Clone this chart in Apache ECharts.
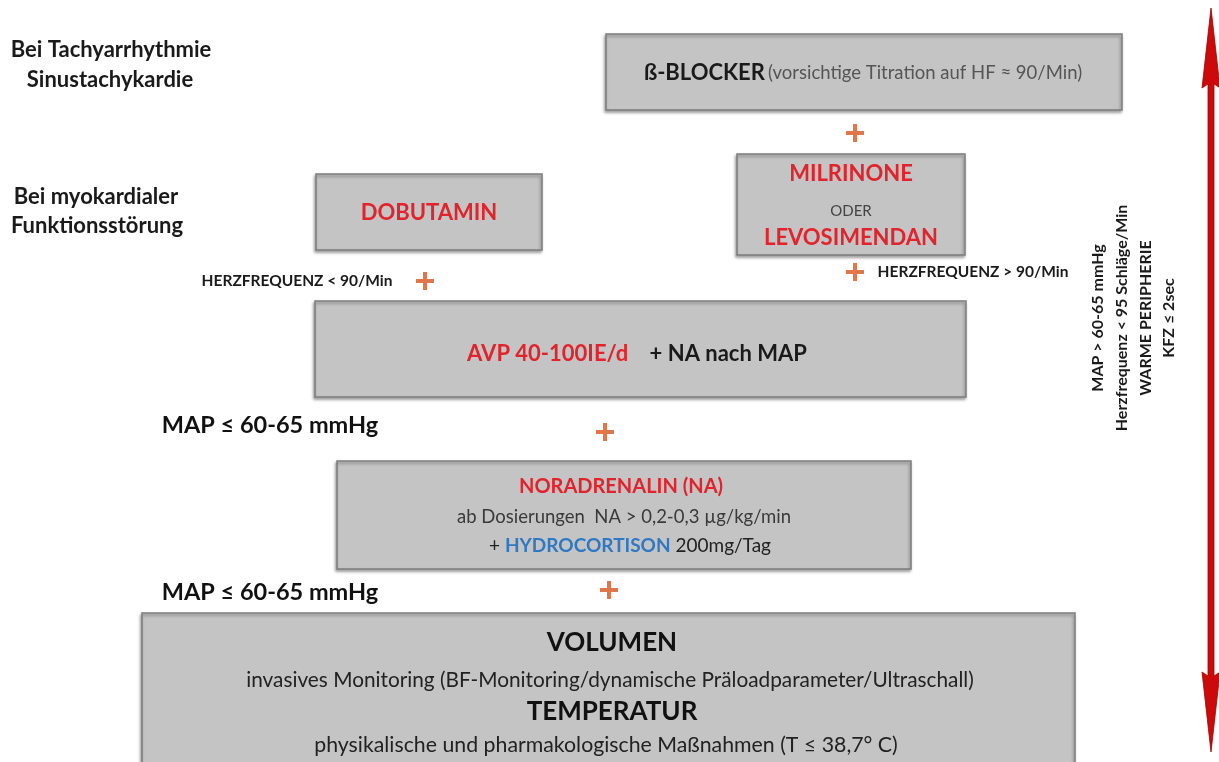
<!DOCTYPE html>
<html><head><meta charset="utf-8">
<script src="https://cdn.jsdelivr.net/npm/echarts@6/dist/echarts.min.js"></script>
<style>html,body{margin:0;padding:0;background:#fff}#c{width:1219px;height:762px}</style>
</head><body><div id="c"></div>
<script>
// ---------- content (data) ----------
const leftNotes = ['Bei Tachyarrhythmie', 'Sinustachykardie', 'Bei myokardialer', 'Funktionsstörung'];
const hrNotes = ['HERZFREQUENZ < 90/Min', 'HERZFREQUENZ > 90/Min'];
const mapNotes = ['MAP ≤ 60-65 mmHg', 'MAP ≤ 60-65 mmHg'];
const targets = ['MAP > 60-65 mmHg', 'Herzfrequenz < 95 Schläge/Min', 'WARME PERIPHERIE', 'KFZ ≤ 2sec'];
const boxNames = ['ß-BLOCKER', 'DOBUTAMIN', 'MILRINONE / LEVOSIMENDAN', 'AVP', 'NORADRENALIN', 'VOLUMEN / TEMPERATUR'];
const boxLines = [
  '{tb|ß-BLOCKER} {ts|(vorsichtige Titration auf HF ≈ 90/Min)}',
  '{red|DOBUTAMIN}',
  '{red|MILRINONE}', '{oder|ODER}', '{red|LEVOSIMENDAN}',
  '{red|AVP 40-100IE/d}{blk|    + NA nach MAP}',
  '{red2|NORADRENALIN (NA)}', '{n14|ab Dosierungen  NA > 0,2-0,3 µg/kg/min}', '{n15|+ }{blue|HYDROCORTISON}{n15| 200mg/Tag}',
  '{big|VOLUMEN}', '{mid|invasives Monitoring (BF-Monitoring/dynamische Präloadparameter/Ultraschall)}',
  '{big|TEMPERATUR}', '{mid2|physikalische und pharmakologische Maßnahmen (T ≤ 38,7° C)}'
];

// ---------- layout (diagram space, 0..1219 x 0..762) ----------
const layout = {
  boxes: [[606,34,1122,110],[316,174,542,250],[737,154,965,255],[315,301,966,397],[337,461,911,569],[142,613,1075,780]],
  boxLinePos: [[863,73],[429,213],[851,174],[851,211],[851,238],[637,354],[621,487],[624,517],[630,546],[612,643],[610,680],[612,712],[606,745]],
  leftPos: [[111,50],[110,80],[96,197],[97,226]],
  hrPos: [[297,281],[973,272]],
  mapPos: [[270,425],[270,592]],
  targetPos: [[1098,318],[1122,318],[1146,318],[1169,318]],
  plusPos: [[855,133],[425,281],[855,272],[605,432],[609,590]],
  arrow: [[1211, 8, 752]]
};

const FONT = 'Lato, "Open Sans", sans-serif';
const RED = '#e3232c';
const rich = {
  tb: {fontFamily: FONT, fontWeight: 'bold', fontSize: 22, fill: '#1a1a1a'},
  ts: {fontFamily: FONT, fontSize: 18.5, fill: '#555'},
  red: {fontFamily: FONT, fontWeight: 'bold', fontSize: 22, fill: RED},
  blk: {fontFamily: FONT, fontWeight: 'bold', fontSize: 22, fill: '#1a1a1a'},
  oder: {fontFamily: FONT, fontSize: 15, fill: '#444'},
  red2: {fontFamily: FONT, fontWeight: 'bold', fontSize: 20, fill: RED},
  n14: {fontFamily: FONT, fontSize: 18.5, fill: '#3a3a3a'},
  n15: {fontFamily: FONT, fontSize: 19, fill: '#222'},
  blue: {fontFamily: FONT, fontWeight: 'bold', fontSize: 19, fill: '#2f78c4'},
  big: {fontFamily: FONT, fontWeight: 'bold', fontSize: 26, fill: '#111'},
  mid: {fontFamily: FONT, fontSize: 20.8, fill: '#222'},
  mid2: {fontFamily: FONT, fontSize: 21.3, fill: '#222'},
  lab: {fontFamily: FONT, fontWeight: 'bold', fontSize: 22, fill: '#1a1a1a'},
  hz: {fontFamily: FONT, fontWeight: 'bold', fontSize: 15.5, fill: '#1a1a1a'},
  map: {fontFamily: FONT, fontWeight: 'bold', fontSize: 23.5, fill: '#111'},
  tgt: {fontFamily: FONT, fontWeight: 'bold', fontSize: 16, fill: '#1a1a1a'}
};

// build text items: [x, y, rotated]
const textStrings = [];
const textData = [];
function addTexts(strs, pos, style, rot) {
  strs.forEach((s, i) => {
    textStrings.push(style ? '{' + style + '|' + s + '}' : s);
    textData.push([pos[i][0], pos[i][1], rot ? 1 : 0]);
  });
}
addTexts(boxLines, layout.boxLinePos, null, false);
addTexts(leftNotes, layout.leftPos, 'lab', false);
addTexts(hrNotes, layout.hrPos, 'hz', false);
addTexts(mapNotes, layout.mapPos, 'map', false);
addTexts(targets, layout.targetPos, 'tgt', true);

const chart = echarts.init(document.getElementById('c'));
chart.setOption({
  backgroundColor: '#ffffff',
  animation: false,
  grid: {left: 0, right: 0, top: 0, bottom: 0},
  xAxis: {type: 'value', min: 0, max: 1219, show: false},
  yAxis: {type: 'value', min: 0, max: 762, inverse: true, show: false},
  series: [
    {
      type: 'custom', name: 'boxes',
      data: layout.boxes.map((b, i) => ({name: boxNames[i], value: b})),
      encode: {x: [0, 2], y: [1, 3]},
      renderItem: function (params, api) {
        const p0 = api.coord([api.value(0), api.value(1)]);
        const p1 = api.coord([api.value(2), api.value(3)]);
        return {
          type: 'rect',
          shape: {x: p0[0], y: p0[1], width: p1[0] - p0[0], height: p1[1] - p0[1]},
          style: {fill: '#c4c4c4', stroke: '#7d7d7d', lineWidth: 1.5,
            shadowBlur: 3, shadowColor: 'rgba(0,0,0,0.35)', shadowOffsetX: -1, shadowOffsetY: 2}
        };
      }
    },
    {
      type: 'custom', name: 'arrow',
      data: layout.arrow,
      encode: {x: 0, y: [1, 2]},
      renderItem: function (params, api) {
        const t = api.coord([api.value(0), api.value(1)]);
        const b = api.coord([api.value(0), api.value(2)]);
        const x = t[0], hw = 9, sw = 3, hl = 80;
        return {
          type: 'polygon',
          shape: {points: [[x, t[1]], [x + hw, t[1] + hl], [x + sw, t[1] + hl - 4], [x + sw, b[1] - hl + 4], [x + hw, b[1] - hl],
            [x, b[1]], [x - hw, b[1] - hl], [x - sw, b[1] - hl + 4], [x - sw, t[1] + hl - 4], [x - hw, t[1] + hl]]},
          style: {fill: '#cc0a0a', stroke: '#a00000', lineWidth: 0.8}
        };
      }
    },
    {
      type: 'scatter', name: 'plus',
      data: layout.plusPos,
      symbol: 'path://M7,0h4v7h7v4h-7v7h-4v-7h-7v-4h7z',
      symbolSize: 18,
      itemStyle: {color: '#d8541d'},
      z: 5
    },
    {
      type: 'custom', name: 'texts',
      data: textData,
      encode: {x: 0, y: 1},
      z: 10,
      renderItem: function (params, api) {
        const p = api.coord([api.value(0), api.value(1)]);
        const rot = api.value(2) === 1;
        return {
          type: 'text',
          x: p[0], y: p[1],
          rotation: rot ? Math.PI / 2 : 0,
          style: {
            text: textStrings[params.dataIndex],
            rich: rich,
            align: 'center', verticalAlign: 'middle',
            fontFamily: FONT
          }
        };
      }
    }
  ]
});
</script>
</body></html>
